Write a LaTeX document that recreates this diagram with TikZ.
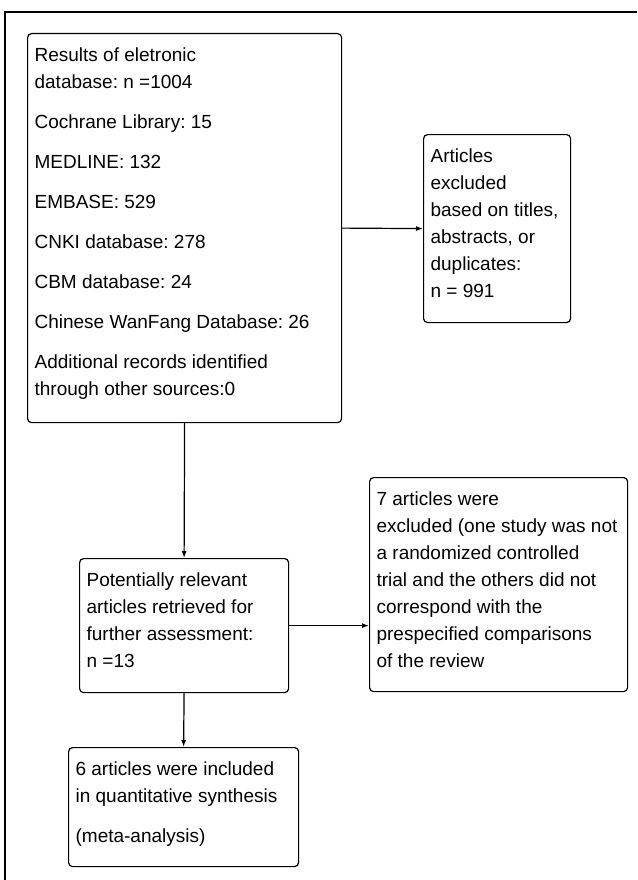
\documentclass[tikz,border=0pt]{standalone}
\usepackage{fontspec}
\setmainfont{Liberation Sans}
\usepackage{tikz}
\usetikzlibrary{arrows.meta}

% text of a box: width, height, lines
\newcommand{\boxtxt}[3]{\parbox[t][#2][t]{#1}{\raggedright\frenchspacing\fontsize{19}{27}\selectfont\rule{0pt}{28pt}#3}}

\tikzset{
  flowbox/.style={draw, line width=1.2pt, rounded corners=4pt, anchor=north west, inner xsep=7pt, inner ysep=0pt},
  flowarrow/.style={line width=1.2pt, -{Latex[length=7pt,width=5pt]}}
}

\begin{document}
\begin{tikzpicture}[x=1pt,y=-1pt]
        \useasboundingbox (0,0) rectangle (637,880);
        % Draw the frame
        \draw[line width=1.5pt] (5,880) -- (5,12) -- (637,12);
        % Draw the boxes
        \node[flowbox] (db) at (27,33) {\boxtxt{300pt}{389pt}{Results of eletronic\\ database: n =1004\\[13pt] Cochrane Library: 15\\[13pt] MEDLINE: 132\\[13pt] EMBASE: 529\\[13pt] CNKI database: 278\\[13pt] CBM database: 24\\[13pt] Chinese WanFang Database: 26\\[13pt] Additional records identified\\ through other sources:0}};
        \node[flowbox] (excl) at (423,134) {\boxtxt{133pt}{188pt}{Articles\\ excluded\\ based on titles,\\ abstracts, or\\ duplicates:\\ n = 991}};
        \node[flowbox] (rel) at (79,558) {\boxtxt{195pt}{134pt}{Potentially relevant\\ articles retrieved for\\ further assessment:\\ n =13}};
        \node[flowbox] (excltwo) at (369,477) {\boxtxt{244pt}{214pt}{7 articles were\\ excluded (one study was not\\ a randomized controlled\\ trial and the others did not\\ correspond with the\\ prespecified comparisons\\ of the review}};
        \node[flowbox] (incl) at (68,747) {\boxtxt{216pt}{119pt}{6 articles were included\\ in quantitative synthesis\\[13pt] (meta-analysis)}};
        % Draw the arrows
        \draw[flowarrow] (db.east) -- (excl.west);
        \draw[flowarrow] (db.south) -- (rel.north);
        \draw[flowarrow] (rel.east) -- (rel.east -| excltwo.west);
        \draw[flowarrow] (rel.south) -- (incl.north);
    \end{tikzpicture}
\end{document}
